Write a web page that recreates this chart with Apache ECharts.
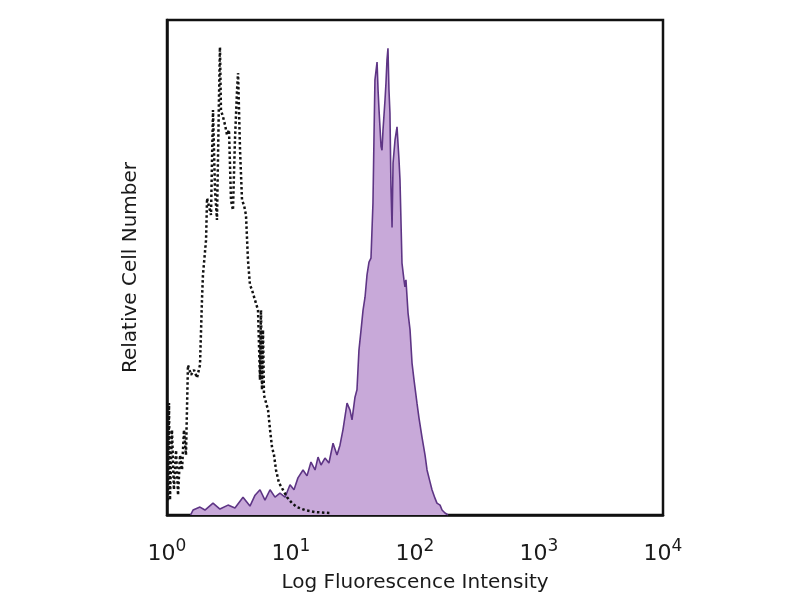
<!DOCTYPE html>
<html>
<head>
<meta charset="utf-8">
<script src="https://cdn.jsdelivr.net/npm/echarts@6/dist/echarts.min.js"></script>
<style>html,body{margin:0;padding:0;background:#fff}#c{width:800px;height:600px}</style>
</head>
<body>
<div id="c"></div>
<script>
// x values are log10(fluorescence intensity), i.e. decades
var decadeTicks = [0, 1, 2, 3, 4];
var tickExponents = ['0', '1', '2', '3', '4'];

// isotype control (black dotted)
var isoX = [0.008,0.016,0.024,0.040,0.056,0.073,0.089,0.105,0.121,0.137,0.153,0.169,0.194,0.218,0.242,0.266,0.282,0.290,0.306,0.315,0.323,0.339,0.355,0.363,0.371,0.387,0.403,0.419,0.427,0.435,0.452,0.468,0.484,0.500,0.516,0.532,0.548,0.565,0.573,0.589,0.605,0.621,0.637,0.653,0.669,0.685,0.710,0.726,0.734,0.750,0.758,0.766,0.774,0.782,0.798,0.815,0.831,0.847,0.863,0.879,0.903,0.935,0.968,1.008,1.048,1.113,1.194,1.315];
var isoY = [3.0,22.6,3.0,17.2,5.1,13.1,4.0,12.1,9.1,17.2,12.1,30.3,28.3,29.3,27.7,30.3,43.4,48.5,48.5,55.6,64.0,63.6,60.6,71.7,81.8,65.7,59.6,83.8,94.5,81.8,80.4,78.8,76.8,77.8,63.6,61.6,75.8,85.9,89.3,73.7,63.6,62.6,60.6,51.5,46.5,45.5,43.4,43.4,41.4,27.3,41.4,25.3,37.4,24.2,23.8,21.2,17.2,13.7,12.1,9.1,6.5,5.1,3.6,2.4,1.6,1.0,0.6,0.4];

// stained sample (purple filled)
var stainX = [0.190,0.210,0.266,0.306,0.371,0.427,0.492,0.548,0.613,0.669,0.710,0.750,0.790,0.831,0.871,0.911,0.952,0.992,1.024,1.056,1.097,1.129,1.161,1.194,1.218,1.242,1.274,1.306,1.339,1.371,1.395,1.419,1.452,1.476,1.492,1.516,1.532,1.548,1.565,1.581,1.597,1.613,1.629,1.645,1.661,1.669,1.677,1.694,1.702,1.710,1.726,1.734,1.742,1.758,1.766,1.774,1.782,1.790,1.798,1.806,1.815,1.823,1.839,1.855,1.871,1.879,1.895,1.911,1.919,1.927,1.944,1.960,1.976,1.992,2.016,2.032,2.056,2.081,2.097,2.121,2.137,2.161,2.177,2.202,2.218,2.242,2.266];
var stainY = [0,1.0,1.6,1.0,2.4,1.2,2.0,1.4,3.6,1.8,4.0,5.1,3.0,5.1,3.6,4.4,3.6,6.1,5.1,7.5,9.1,7.9,10.7,9.1,11.7,10.1,11.5,10.5,14.5,12.1,14.1,17.2,22.6,21.2,19.2,23.8,25.3,33.3,37.4,41.4,44.0,48.5,51.1,51.9,63.0,75.8,87.9,91.5,85.9,81.8,74.5,73.7,77.8,83.8,87.3,91.9,94.3,85.9,81.2,66.6,58.1,71.1,75.8,78.4,71.7,67.7,50.9,47.5,46.1,47.5,40.8,37.4,30.7,27.3,22.6,19.6,15.8,12.1,9.1,6.7,5.1,3.4,2.4,2.0,1.0,0.4,0];

function pairs(xs, ys) { return xs.map(function (x, i) { return [x, ys[i]]; }); }

var chart = echarts.init(document.getElementById('c'));
var FONT = 'DejaVu Sans';
chart.setOption({
  animation: false,
  backgroundColor: '#fff',
  grid: { left: 167, right: 137, top: 20, bottom: 85, show: true, borderColor: '#111', borderWidth: 2.5, backgroundColor: 'transparent' },
  xAxis: {
    type: 'value', min: 0, max: 4, interval: 1,
    name: 'Log Fluorescence Intensity', nameLocation: 'middle', nameGap: 58,
    nameTextStyle: { fontFamily: FONT, fontSize: 20, color: '#1a1a1a' },
    axisLine: { show: true, lineStyle: { color: '#111', width: 2.5 } },
    axisTick: { show: false },
    splitLine: { show: false },
    axisLabel: {
      margin: 23,
      formatter: function (v) {
        var i = decadeTicks.indexOf(v);
        return '{b|10}{s|' + tickExponents[i] + '}';
      },
      rich: {
        b: { fontFamily: FONT, fontSize: 22, color: '#1a1a1a', verticalAlign: 'bottom', lineHeight: 27 },
        s: { fontFamily: FONT, fontSize: 17, color: '#1a1a1a', verticalAlign: 'top', lineHeight: 27 }
      }
    }
  },
  yAxis: {
    type: 'value', min: 0, max: 100,
    name: 'Relative Cell Number', nameLocation: 'middle', nameGap: 26,
    nameTextStyle: { fontFamily: FONT, fontSize: 20, color: '#1a1a1a' },
    axisLine: { show: true, lineStyle: { color: '#111', width: 2.5 } },
    axisTick: { show: false }, axisLabel: { show: false }, splitLine: { show: false }
  },
  series: [
    {
      type: 'line', data: pairs(stainX, stainY), symbol: 'none', z: 2,
      lineStyle: { color: '#5e3585', width: 1.6 },
      areaStyle: { color: '#c8a9d9', opacity: 1 }
    },
    {
      type: 'line', data: pairs(isoX, isoY), symbol: 'none', z: 3,
      lineStyle: { color: '#111', width: 2.5, type: 'dotted' }
    }
  ]
});
</script>
</body>
</html>
